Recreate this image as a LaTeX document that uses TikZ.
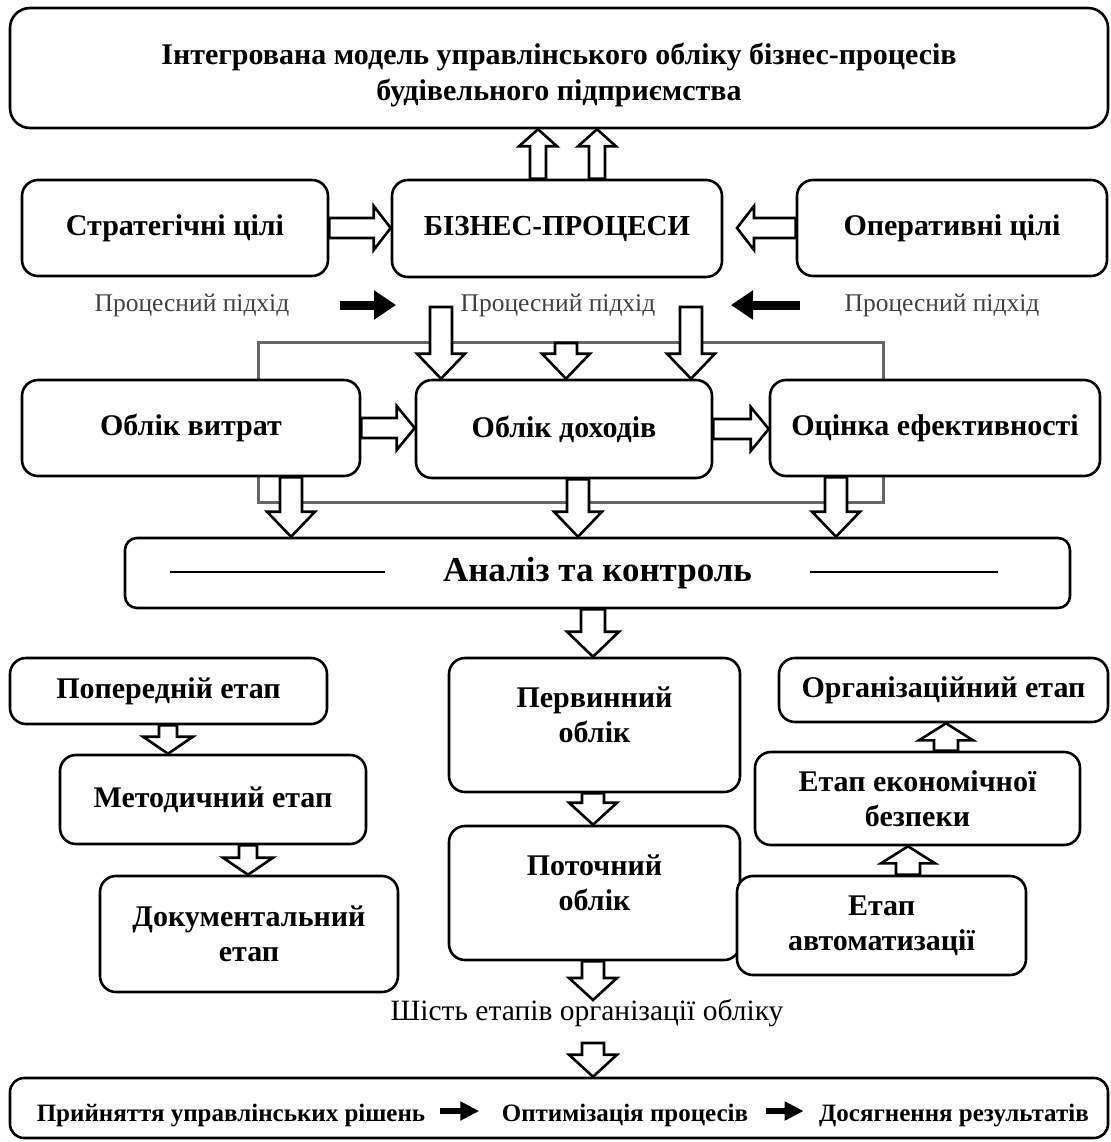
\documentclass[tikz,border=0pt]{standalone}
\usepackage{fontspec}
\setmainfont{Liberation Serif}
\usetikzlibrary{arrows.meta,calc}
\def\sw{11pt}\def\hw{24pt}\def\hl{25pt}
\tikzset{
  box/.style={draw, line width=2.6pt, rounded corners=16pt, fill=white, align=center,
    inner sep=0pt, font=\fontsize{30}{35}\selectfont\bfseries},
  blockarrow/.style={draw, fill=white, line width=2.6pt, line join=miter},
  asize/.code args={#1/#2/#3}{\def\sw{#1}\def\hw{#2}\def\hl{#3}},
  procarrow/.style={line width=9pt, -{Triangle[length=22pt,width=28pt]}},
  smallarrow/.style={line width=6.5pt, -{Triangle[length=19pt,width=18pt]}},
  graytxt/.style={text=black!75, font=\fontsize{25.5}{30}\selectfont},
  bottomtxt/.style={anchor=base, font=\fontsize{25}{30}\selectfont\bfseries},
  frame/.style={draw=black!60, line width=3pt},
}
\newcommand{\varrow}[3][]{%
  \draw[blockarrow,#1] let \p1=#2, \p2=#3, \n1={(\y2>\y1)?1:-1} in
   ({\x1-\sw},\y1) -- ({\x1-\sw},{\y2-(\n1)*\hl}) -- ({\x1-\hw},{\y2-(\n1)*\hl}) -- (\x1,\y2)
   -- ({\x1+\hw},{\y2-(\n1)*\hl}) -- ({\x1+\sw},{\y2-(\n1)*\hl}) -- ({\x1+\sw},\y1) -- cycle;}
\newcommand{\harrow}[3][]{%
  \draw[blockarrow,#1] let \p1=#2, \p2=#3, \n1={(\x2>\x1)?1:-1} in
   (\x1,{\y1-\sw}) -- ({\x2-(\n1)*\hl},{\y1-\sw}) -- ({\x2-(\n1)*\hl},{\y1-\hw}) -- (\x2,\y1)
   -- ({\x2-(\n1)*\hl},{\y1+\hw}) -- ({\x2-(\n1)*\hl},{\y1+\sw}) -- (\x1,{\y1+\sw}) -- cycle;}
\begin{document}
\begin{tikzpicture}[x=1pt,y=-1pt]
\fill[white] (0,0) rectangle (1110,1142);
\useasboundingbox (0,0) rectangle (1110,1142);
% gray frame
\draw[frame] (258,342) rectangle (883,502);
% title
\node[box, rounded corners=20pt, minimum width=1098pt, minimum height=120pt,
  font=\fontsize{30}{36}\selectfont\bfseries] (title) at (559,68)
  {\rule{0pt}{8pt}\\[-8pt]Інтегрована модель управлінського обліку бізнес-процесів\\будівельного підприємства};
% row 2
\node[box, minimum width=306pt, minimum height=96pt] (strat) at (175,228) {Стратегічні цілі};
\node[box, minimum width=330pt, minimum height=97pt, font=\fontsize{29}{34}\selectfont\bfseries] (bp) at (557,228.5) {БІЗНЕС-ПРОЦЕСИ};
\node[box, minimum width=310pt, minimum height=96pt] (oper) at (952,228) {Оперативні цілі};
% process labels
\node[graytxt] (pl1) at (192,305) {Процесний підхід};
\node[graytxt] (pl2) at (558,305) {Процесний підхід};
\node[graytxt] (pl3) at (942,305) {Процесний підхід};
\coordinate (pa1s) at (340,305); \coordinate (pa1e) at (396,305);
\coordinate (pa2s) at (800,305); \coordinate (pa2e) at (731,305);
\draw[procarrow] (pa1s) -- (pa1e);
\draw[procarrow] (pa2s) -- (pa2e);
% row 3
\node[box, minimum width=338pt, minimum height=96pt] (obv) at (191,428) {Облік витрат};
\node[box, minimum width=296pt, minimum height=98pt] (obd) at (564,429) {Облік доходів};
\node[box, minimum width=330pt, minimum height=96pt] (ocef) at (935,428) {Оцінка ефективності};
% analysis
\node[box, rounded corners=12pt, minimum width=945pt, minimum height=70pt,
  font=\fontsize{35}{40}\selectfont\bfseries] (anal) at (597.5,573) {Аналіз та контроль};
\draw[line width=2.6pt] (170,572) -- (385,572);
\draw[line width=2.6pt] (810,572) -- (998,572);
% left column
\node[box, minimum width=317pt, minimum height=66pt] (pop) at (168.5,691) {Попередній етап};
\node[box, minimum width=306pt, minimum height=89pt] (met) at (213,799.5) {Методичний етап};
\node[box, minimum width=298pt, minimum height=116pt] (doc) at (249,934) {Документальний\\етап};
% center column
\node[box, minimum width=291pt, minimum height=134pt] (perv) at (594.5,725) {Первинний\\облік\\[-14pt]\rule{0pt}{0pt}};
\node[box, minimum width=291pt, minimum height=134pt] (potoch) at (594.5,893) {Поточний\\облік\\[-14pt]\rule{0pt}{0pt}};
% right column
\node[box, minimum width=329pt, minimum height=64pt] (org) at (943.5,690) {Організаційний етап};
\node[box, minimum width=325pt, minimum height=93pt] (eek) at (917.5,798.5) {Етап економічної\\безпеки};
\node[box, minimum width=289pt, minimum height=99pt] (avt) at (881.5,925.5) {Етап\\автоматизації};
% six stages text
\node[font=\fontsize{29.5}{34}\selectfont] (six) at (587,1013) {Шість етапів організації обліку};
% bottom box
\node[box, rounded corners=14pt, minimum width=1098pt, minimum height=60pt] (bottom) at (559,1108) {};
\node[bottomtxt] (r1) at (231,1121) {Прийняття управлінських рішень};
\node[bottomtxt] (r2) at (625,1121) {Оптимізація процесів};
\node[bottomtxt] (r3) at (954,1121) {Досягнення результатів};
\draw[smallarrow] ([xshift=11pt]r1.east |- 0,1111) -- ([xshift=-19pt]r2.west |- 0,1111);
\draw[smallarrow] ([xshift=14pt]r2.east |- 0,1111) -- ([xshift=-12pt]r3.west |- 0,1111);
% block arrows: up to title
\varrow[asize=8pt/19pt/17pt]{(538,0 |- bp.north)}{(538,0 |- title.south)}
\varrow[asize=8pt/19pt/17pt]{(597,0 |- bp.north)}{(597,0 |- title.south)}
% side to bp
\harrow[asize=10pt/22pt/17pt]{(strat.east)}{(bp.west)}
\harrow[asize=10pt/22pt/17pt]{(oper.west)}{(737,228)}
% bp down
\varrow{(441,307)}{(441,0 |- obd.north)}
\varrow{(566,343)}{(566,0 |- obd.north)}
\varrow{(691,307)}{(691,0 |- obd.north)}
% row 3 horizontal
\harrow[asize=10pt/22pt/18pt]{(obv.east)}{(obd.west)}
\harrow[asize=10pt/22pt/18pt]{(obd.east)}{(ocef.west)}
% row 3 down to analysis
\varrow{(291,0 |- obv.south)}{(291,0 |- anal.north)}
\varrow{(578,0 |- obd.south)}{(578,0 |- anal.north)}
\varrow{(836,0 |- ocef.south)}{(836,0 |- anal.north)}
% analysis to perv
\varrow[asize=12pt/26pt/25pt]{(593,0 |- anal.south)}{(593,0 |- perv.north)}
% left column arrows
\varrow[asize=9pt/25pt/17pt]{(168,0 |- pop.south)}{(168,0 |- met.north)}
\varrow[asize=9pt/25pt/17pt]{(248,0 |- met.south)}{(248,0 |- doc.north)}
% center arrows
\varrow[asize=11pt/24pt/22pt]{(593,0 |- perv.south)}{(593,0 |- potoch.north)}
\varrow[asize=11pt/24pt/22pt]{(593,0 |- potoch.south)}{(593,1000)}
\varrow[asize=11pt/24pt/22pt]{(593,1043)}{(593,0 |- bottom.north)}
% right column arrows
\varrow[asize=12pt/27pt/17pt]{(946,0 |- eek.north)}{(946,0 |- org.south)}
\varrow[asize=12pt/27pt/17pt]{(908,0 |- avt.north)}{(908,0 |- eek.south)}
\end{tikzpicture}
\end{document}
